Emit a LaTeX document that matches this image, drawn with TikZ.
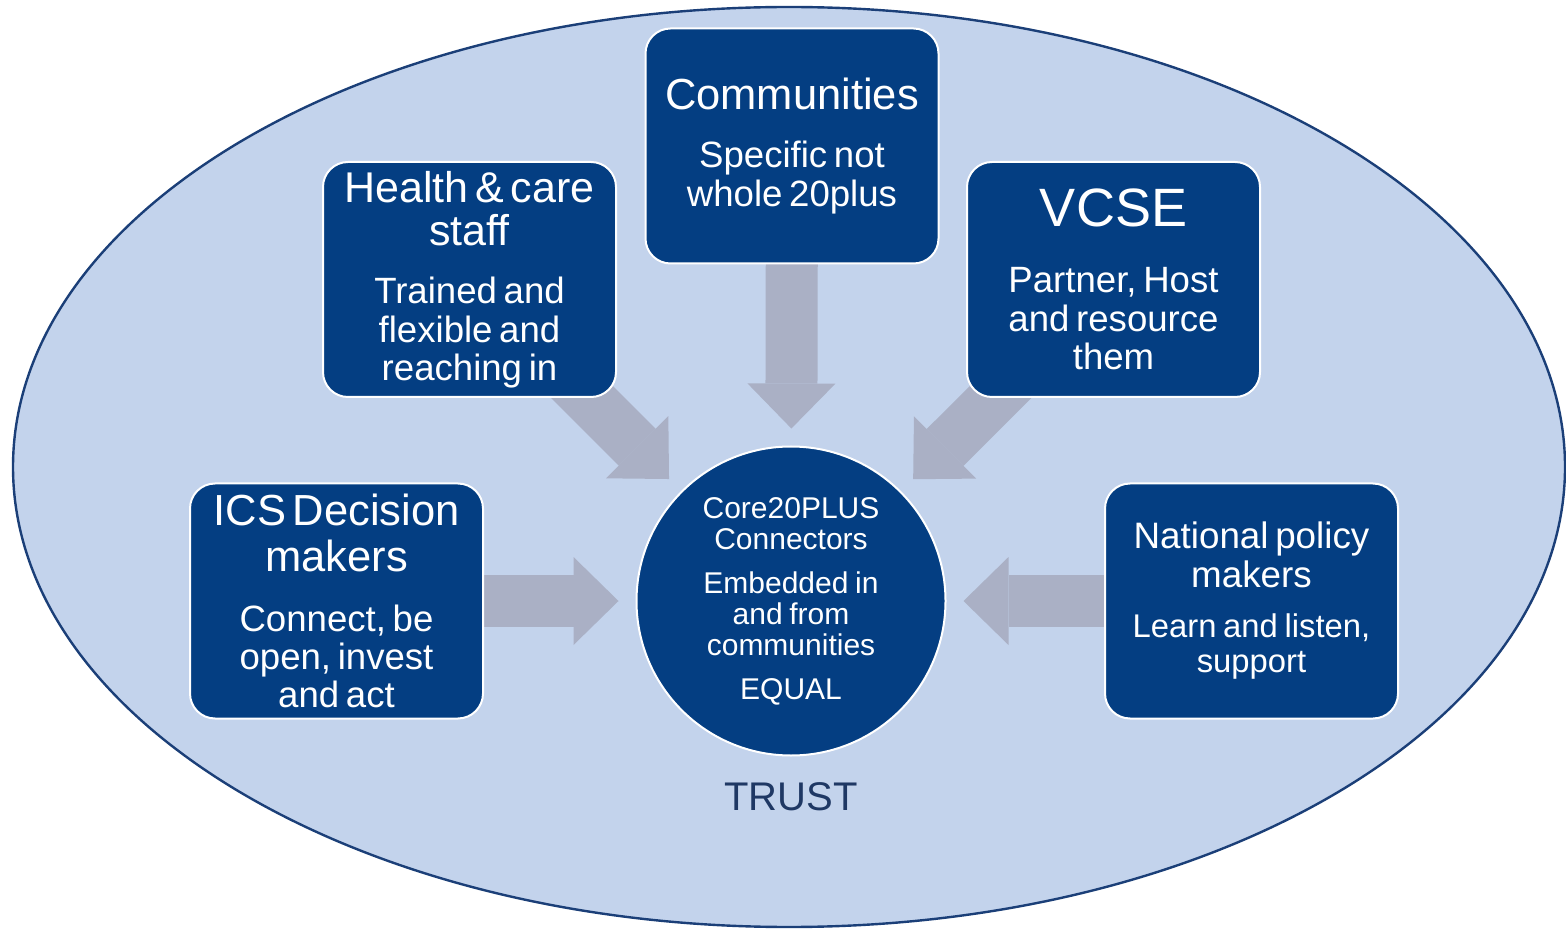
\documentclass[tikz,border=0pt]{standalone}
\usepackage{fontspec}
\setmainfont{Liberation Sans}
\usepackage{xcolor}
\usetikzlibrary{arrows.meta}

\definecolor{navybox}{RGB}{4,62,130}
\definecolor{paleblue}{RGB}{195,211,236}
\definecolor{rimblue}{RGB}{27,63,120}
\definecolor{arrowgray}{RGB}{170,176,197}
\definecolor{trustblue}{RGB}{31,56,100}

\pgfdeclarelayer{back}
\pgfdeclarelayer{mid}
\pgfsetlayers{back,mid,main}

\newcommand{\hdfont}{\fontsize{21.5}{21.5}\selectfont}
\newcommand{\sbfont}{\fontsize{18.3}{19.25}\selectfont}
\newcommand{\corefont}{\fontsize{15}{15.5}\selectfont}

\tikzset{
    actor/.style={draw=white, line width=1pt, fill=navybox, text=white,
        rounded corners=12.5pt, minimum width=146.5pt, minimum height=117.5pt,
        text width=140pt, align=center, inner sep=0pt,
        execute at begin node={\setlength{\parindent}{0pt}}},
    flow/.style={arrowgray, line width=26pt, shorten >=8.5pt,
        -{Triangle[length=22.5pt, width=44pt, line width=0pt]}}
}

\begin{document}
\begin{tikzpicture}[x=0.5pt, y=-0.5pt]
    \useasboundingbox (0, 0) rectangle (1566, 929);

    \begin{pgfonlayer}{back}
        \draw[rimblue, line width=1.2pt, fill=paleblue] (789, 467) ellipse [x radius=388pt, y radius=230pt];
    \end{pgfonlayer}

    \node[actor] (comm) at (792, 146) {{\fontsize{21.75}{22}\selectfont Communities\par}\vspace{10pt}%
        {\sbfont Specific not\\whole 20plus\par}};
    \node[actor] (hc) at (469.5, 279.5) {{\hdfont Health \& care\\staff\par}\vspace{10pt}%
        {\sbfont Trained and\\flexible and\\reaching in\par}};
    \node[actor] (vcse) at (1113.5, 279.5) {{\fontsize{27}{27}\selectfont VCSE\par}\vspace{14pt}%
        {\sbfont Partner, Host\\and resource\\them\par}};
    \node[actor] (ics) at (336.5, 601) {{\fontsize{21.75}{23}\selectfont ICS Decision\\makers\par}\vspace{11pt}%
        {\fontsize{18.3}{19}\selectfont Connect, be\\open, invest\\and act\par}};
    \node[actor] (nat) at (1251.5, 601) {{\fontsize{18.4}{19.5}\selectfont National policy\\makers\par}\vspace{7.5pt}%
        {\fontsize{16.4}{17.5}\selectfont Learn and listen,\\support\par}};

    \node[circle, draw=white, line width=1pt, fill=navybox, text=white, minimum size=154.5pt,
        text width=92pt, align=center, inner sep=0pt,
        execute at begin node={\setlength{\parindent}{0pt}}] (core) at (791, 601)
        {{\corefont Core20PLUS\\Connectors\par}\vspace{6.5pt}%
         {\corefont Embedded in\\and from\\communities\par}\vspace{6.5pt}%
         {\corefont EQUAL\par}};

    \node[text=trustblue, font=\fontsize{20}{24}\selectfont] (trust) at (791, 797) {TRUST};

    % big grey arrows into the centre
    \begin{pgfonlayer}{mid}
        \draw[flow] (comm.center) -- (core);
        \draw[flow] (hc.center) -- (core);
        \draw[flow] (vcse.center) -- (core);
        \draw[flow] (ics.center) -- (core);
        \draw[flow] (nat.center) -- (core);
    \end{pgfonlayer}
\end{tikzpicture}
\end{document}
